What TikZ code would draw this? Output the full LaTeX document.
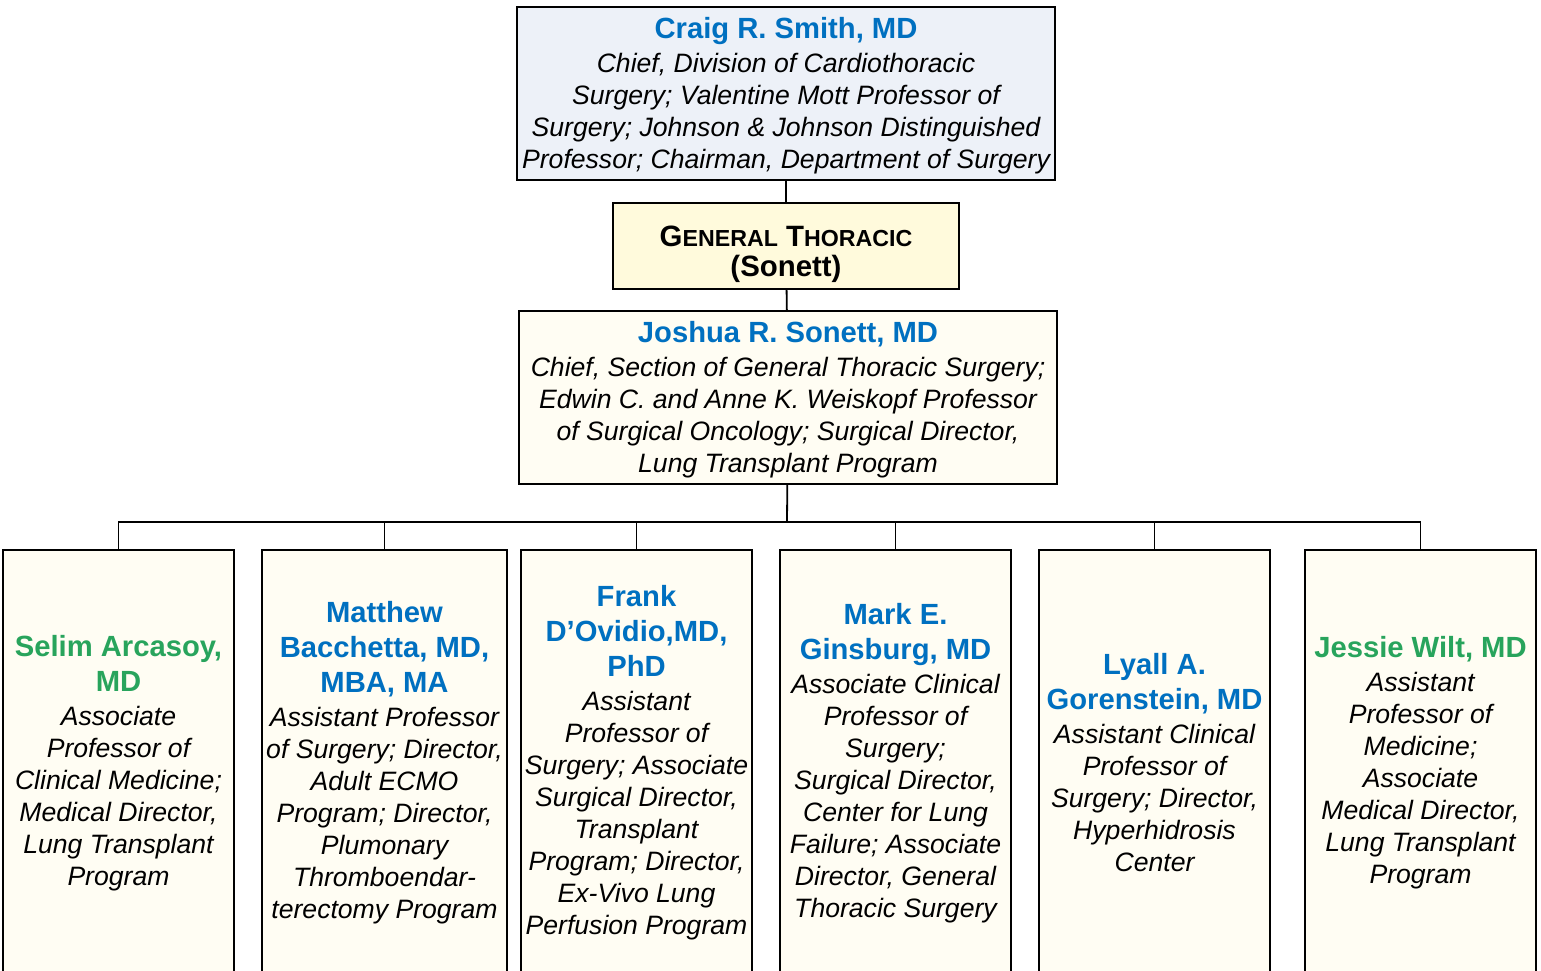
\documentclass[tikz,border=0pt]{standalone}
\usepackage{fontspec}
\setmainfont{Liberation Sans}
\definecolor{namblue}{RGB}{0,112,192}
\definecolor{namgreen}{RGB}{40,164,92}
\definecolor{chieffill}{RGB}{237,241,248}
\definecolor{secfill}{RGB}{255,250,220}
\definecolor{boxfill}{RGB}{255,253,243}
\newcommand{\nm}[2][namblue]{{\fontsize{14.6}{17.5}\selectfont\bfseries\upshape\color{#1}#2}}
\newcommand{\scap}[2]{{\fontsize{14.7}{14.5}\selectfont #1}{\fontsize{11.6}{14.5}\selectfont #2}}
\tikzset{
  box/.style={draw, line width=0.9pt, inner sep=0pt, align=center,
    font=\fontsize{13.3}{16}\selectfont\itshape},
  leaf/.style={box, fill=boxfill, minimum width=115.5pt, minimum height=213pt},
}
\begin{document}
\begin{tikzpicture}[x=0.5pt, y=-0.5pt]
  \useasboundingbox (0,0) rectangle (1541,970);
  \clip (0,0) rectangle (1541,970);
  % top of the chart
  \node[box, fill=chieffill, minimum width=269pt, minimum height=86.5pt] (smith) at (786,93.5)
    {\rule{0pt}{12.5pt}\nm{Craig R. Smith, MD}\\[1pt]
     Chief, Division of Cardiothoracic\\
     Surgery; Valentine Mott Professor of\\
     Surgery; Johnson \& Johnson Distinguished\\
     Professor; Chairman, Department of Surgery};
  \node[box, fill=secfill, minimum width=173pt, minimum height=43pt,
    font=\fontsize{14.7}{14.5}\selectfont\bfseries] (thoracic) at (786,246)
    {\rule{0pt}{18.5pt}\scap{G}{ENERAL} \scap{T}{HORACIC}\\[0.5pt] (Sonett)};
  \node[box, fill=boxfill, minimum width=269pt, minimum height=86.5pt] (sonett) at (788,397.5)
    {\rule{0pt}{12.5pt}\nm{Joshua R. Sonett, MD}\\[1pt]
     Chief, Section of General Thoracic Surgery;\\
     Edwin C. and Anne K. Weiskopf Professor\\
     of Surgical Oncology; Surgical Director,\\
     Lung Transplant Program};
  \coordinate (bus) at (787,522);
  \draw[line width=0.9pt] (smith) -- (thoracic);
  \draw[line width=0.9pt] (thoracic) -- (sonett);
  \draw[line width=0.9pt] (sonett) -- (bus);
  % faculty
  \node[leaf] (arcasoy) at (118.5,763)
    {\nm[namgreen]{Selim Arcasoy,}\\[1.5pt]
     \nm[namgreen]{MD}\\[1pt]
     Associate\\ Professor of\\ Clinical Medicine;\\
     Medical Director,\\ Lung Transplant\\ Program};
  \node[leaf, minimum width=122.5pt] (bacchetta) at (384.5,763)
    {\nm{Matthew}\\[1.5pt]
     \nm{Bacchetta, MD,}\\[1.5pt]
     \nm{MBA, MA}\\[1pt]
     Assistant Professor\\ of Surgery; Director,\\ Adult ECMO\\
     Program; Director,\\ Plumonary\\ Thromboendar-\\ terectomy Program};
  \node[leaf] (dovidio) at (636.5,763)
    {\nm{Frank}\\[1.5pt]
     \nm{D’Ovidio,MD,}\\[1.5pt]
     \nm{PhD}\\[1pt]
     Assistant\\ Professor of\\ Surgery; Associate\\ Surgical Director,\\
     Transplant\\ Program; Director,\\ Ex-Vivo Lung\\ Perfusion Program};
  \node[leaf] (ginsburg) at (895.5,763)
    {\nm{Mark E.}\\[1.5pt]
     \nm{Ginsburg, MD}\\[1pt]
     Associate Clinical\\ Professor of\\ Surgery;\\ Surgical Director,\\
     Center for Lung\\ Failure; Associate\\ Director, General\\ Thoracic Surgery};
  \node[leaf] (gorenstein) at (1154.5,763)
    {\nm{Lyall A.}\\[1.5pt]
     \nm{Gorenstein, MD}\\[1pt]
     Assistant Clinical\\ Professor of\\ Surgery; Director,\\
     Hyperhidrosis\\ Center};
  \node[leaf] (wilt) at (1420.5,763)
    {\nm[namgreen]{Jessie Wilt, MD}\\[1pt]
     Assistant\\ Professor of\\ Medicine;\\ Associate\\
     Medical Director,\\ Lung Transplant\\ Program};
  \foreach \who in {arcasoy,bacchetta,dovidio,ginsburg,gorenstein,wilt}
    \draw[line width=0.9pt] (bus) -| (\who);
\end{tikzpicture}
\end{document}
